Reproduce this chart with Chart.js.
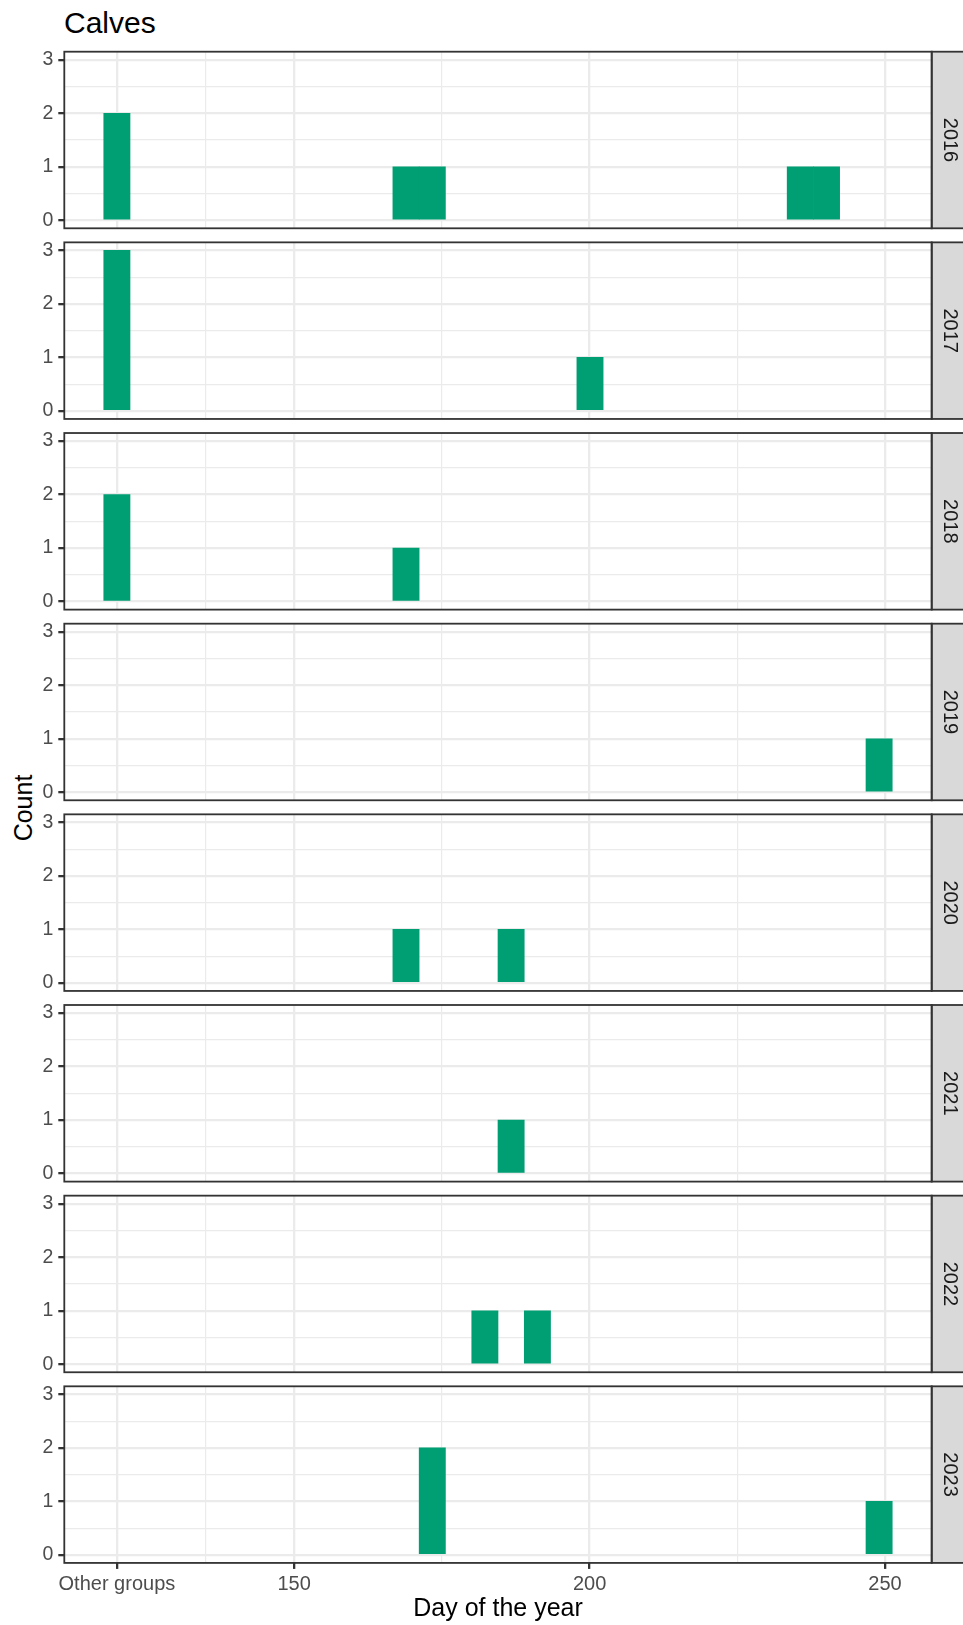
<!DOCTYPE html>
<html>
<head>
<meta charset="utf-8">
<title>Calves</title>
<script src="https://cdn.jsdelivr.net/npm/chart.js@4"></script>
<style>
  html, body { margin: 0; padding: 0; background: #ffffff; }
  #page { position: relative; width: 963px; height: 1625px; overflow: hidden;
          font-family: "Liberation Sans", Arial, Helvetica, sans-serif; }
  #page canvas { position: absolute; left: 0; }
  .plot-title { position: absolute; left: 64px; top: 7.5px; font-size: 30px; line-height: 30px;
                color: #000000; white-space: nowrap; }
  .y-title { position: absolute; left: 23px; top: 807.5px; font-size: 25px; line-height: 25px;
             color: #000000; white-space: nowrap; transform: translate(-50%, -50%) rotate(-90deg); }
</style>
</head>
<body>
<div id="page">
  <div class="plot-title">Calves</div>
  <div class="y-title">Count</div>
</div>
<script>
// Histogram bin centres (day of year); the first bin collects "Other groups"
const dayBins = [120.00, 124.45, 128.90, 133.34, 137.79, 142.24, 146.69, 151.14, 155.59, 160.03,
                 164.48, 168.93, 173.38, 177.83, 182.28, 186.72, 191.17, 195.62, 200.07, 204.52,
                 208.97, 213.41, 217.86, 222.31, 226.76, 231.21, 235.66, 240.10, 244.55, 249.00];

// Facet rows
const years = ['2016', '2017', '2018', '2019', '2020', '2021', '2022', '2023'];

// Calf counts per bin, one array per year
const counts2016 = [2,0,0,0,0,0,0,0,0,0, 0,1,1,0,0,0,0,0,0,0, 0,0,0,0,0,0,1,1,0,0];
const counts2017 = [3,0,0,0,0,0,0,0,0,0, 0,0,0,0,0,0,0,0,1,0, 0,0,0,0,0,0,0,0,0,0];
const counts2018 = [2,0,0,0,0,0,0,0,0,0, 0,1,0,0,0,0,0,0,0,0, 0,0,0,0,0,0,0,0,0,0];
const counts2019 = [0,0,0,0,0,0,0,0,0,0, 0,0,0,0,0,0,0,0,0,0, 0,0,0,0,0,0,0,0,0,1];
const counts2020 = [0,0,0,0,0,0,0,0,0,0, 0,1,0,0,0,1,0,0,0,0, 0,0,0,0,0,0,0,0,0,0];
const counts2021 = [0,0,0,0,0,0,0,0,0,0, 0,0,0,0,0,1,0,0,0,0, 0,0,0,0,0,0,0,0,0,0];
const counts2022 = [0,0,0,0,0,0,0,0,0,0, 0,0,0,0,1,0,1,0,0,0, 0,0,0,0,0,0,0,0,0,0];
const counts2023 = [0,0,0,0,0,0,0,0,0,0, 0,0,2,0,0,0,0,0,0,0, 0,0,0,0,0,0,0,0,0,1];

// Axis breaks and labels
const xMajorTicks = [120, 150, 200, 250];
const xTickLabels = ['Other groups', '150', '200', '250'];
const xMinorTicks = [135, 175, 225];
const yMajorTicks = [0, 1, 2, 3];
const yMinorTicks = [0.5, 1.5, 2.5];

const countsByYear = [counts2016, counts2017, counts2018, counts2019,
                      counts2020, counts2021, counts2022, counts2023];

// ---- layout ----
const PAGE_W = 963, PAGE_H = 1625;
const PANEL_LEFT = 64.3, PANEL_RIGHT = 931.7;
const PANEL_TOP0 = 51.7, PANEL_H = 176.6, PANEL_STEP = 190.66;
const X_RANGE = [111.1, 257.9];
const Y_RANGE = [-0.15, 3.15];
const FONT = '"Liberation Sans", Arial, Helvetica, sans-serif';
const BAR_FILL = '#009E73';
const GRID = '#EBEBEB';
const INK = '#333333';

Chart.defaults.font.family = FONT;

const xAll = xMajorTicks.concat(xMinorTicks).sort((a, b) => a - b);
const yAll = yMajorTicks.concat(yMinorTicks).sort((a, b) => a - b);
const isMajor = (list, v) => list.indexOf(v) !== -1;

// Panel frame, facet strip and strip label
const facetFrame = {
  id: 'facetFrame',
  afterDatasetsDraw(chart, args, opts) {
    const { ctx, chartArea: a } = chart;
    const h = a.bottom - a.top;
    ctx.save();
    ctx.fillStyle = '#D9D9D9';
    ctx.fillRect(a.right, a.top, chart.width - a.right + 4, h);
    ctx.strokeStyle = INK;
    ctx.lineWidth = 1.8;
    ctx.strokeRect(a.right, a.top, chart.width - a.right + 4, h);
    ctx.strokeRect(a.left, a.top, a.right - a.left, h);
    ctx.translate(949.4, (a.top + a.bottom) / 2);
    ctx.rotate(Math.PI / 2);
    ctx.font = '20px ' + FONT;
    ctx.fillStyle = '#1A1A1A';
    ctx.textAlign = 'center';
    ctx.textBaseline = 'middle';
    ctx.fillText(opts.label, 0, 0);
    ctx.restore();
  }
};

const page = document.getElementById('page');

years.forEach((year, i) => {
  const isLast = i === years.length - 1;
  const top = PANEL_TOP0 + i * PANEL_STEP;
  const bottom = top + PANEL_H;
  const canvasTop = Math.floor(top) - 6;
  const canvasBottom = isLast ? PAGE_H : Math.ceil(bottom) + 6;
  const canvasH = canvasBottom - canvasTop;

  const canvas = document.createElement('canvas');
  canvas.width = PAGE_W;
  canvas.height = canvasH;
  canvas.style.top = canvasTop + 'px';
  canvas.style.width = PAGE_W + 'px';
  canvas.style.height = canvasH + 'px';
  page.appendChild(canvas);

  new Chart(canvas, {
    type: 'bar',
    data: {
      labels: dayBins,
      datasets: [{
        data: countsByYear[i],
        // empty bins stay invisible
        backgroundColor: c => (c.raw ? BAR_FILL : 'rgba(0,0,0,0)'),
        borderWidth: 0,
        categoryPercentage: 1,
        barPercentage: 1
      }]
    },
    options: {
      responsive: false,
      animation: false,
      devicePixelRatio: 1,
      events: [],
      layout: {
        padding: {
          left: 0,
          right: PAGE_W - PANEL_RIGHT,
          top: top - canvasTop,
          bottom: isLast ? 0 : canvasBottom - bottom
        }
      },
      plugins: {
        legend: { display: false },
        tooltip: { enabled: false },
        title: { display: false },
        facetFrame: { label: year }
      },
      scales: {
        x: {
          type: 'linear',
          min: X_RANGE[0],
          max: X_RANGE[1],
          bounds: 'data',
          offset: false,
          afterBuildTicks: s => { s.ticks = xAll.map(v => ({ value: v })); },
          afterFit: s => {
            s.height = isLast ? (canvasBottom - canvasTop) - (bottom - canvasTop) : 0;
            s.paddingLeft = 0;
            s.paddingRight = 0;
          },
          border: { display: false },
          grid: {
            offset: false,
            color: GRID,
            lineWidth: c => (c.tick && isMajor(xMajorTicks, c.tick.value)) ? 2.3 : 1.2,
            drawTicks: isLast,
            tickLength: 6,
            tickWidth: 2.3,
            tickColor: c => (c.tick && isMajor(xMajorTicks, c.tick.value)) ? INK : 'rgba(0,0,0,0)'
          },
          ticks: {
            display: isLast,
            autoSkip: false,
            maxRotation: 0,
            minRotation: 0,
            padding: 4,
            color: '#4D4D4D',
            font: { size: 20 },
            callback: v => {
              const k = xMajorTicks.indexOf(v);
              return k === -1 ? '' : xTickLabels[k];
            }
          },
          title: {
            display: isLast,
            text: 'Day of the year',
            color: '#000000',
            font: { size: 25 },
            padding: { top: 0, bottom: 1 }
          }
        },
        y: {
          min: Y_RANGE[0],
          max: Y_RANGE[1],
          afterBuildTicks: s => { s.ticks = yAll.map(v => ({ value: v })); },
          afterFit: s => {
            s.width = PANEL_LEFT;
            s.paddingTop = 0;
            s.paddingBottom = 0;
          },
          border: { display: false },
          grid: {
            color: GRID,
            lineWidth: c => (c.tick && isMajor(yMajorTicks, c.tick.value)) ? 2.3 : 1.2,
            drawTicks: true,
            tickLength: 6,
            tickWidth: 2.3,
            tickColor: c => (c.tick && isMajor(yMajorTicks, c.tick.value)) ? INK : 'rgba(0,0,0,0)'
          },
          ticks: {
            padding: 5,
            color: '#4D4D4D',
            font: { size: 19.5 },
            callback: v => isMajor(yMajorTicks, v) ? String(v) : ''
          }
        }
      }
    },
    plugins: [facetFrame]
  });
});
</script>
</body>
</html>
